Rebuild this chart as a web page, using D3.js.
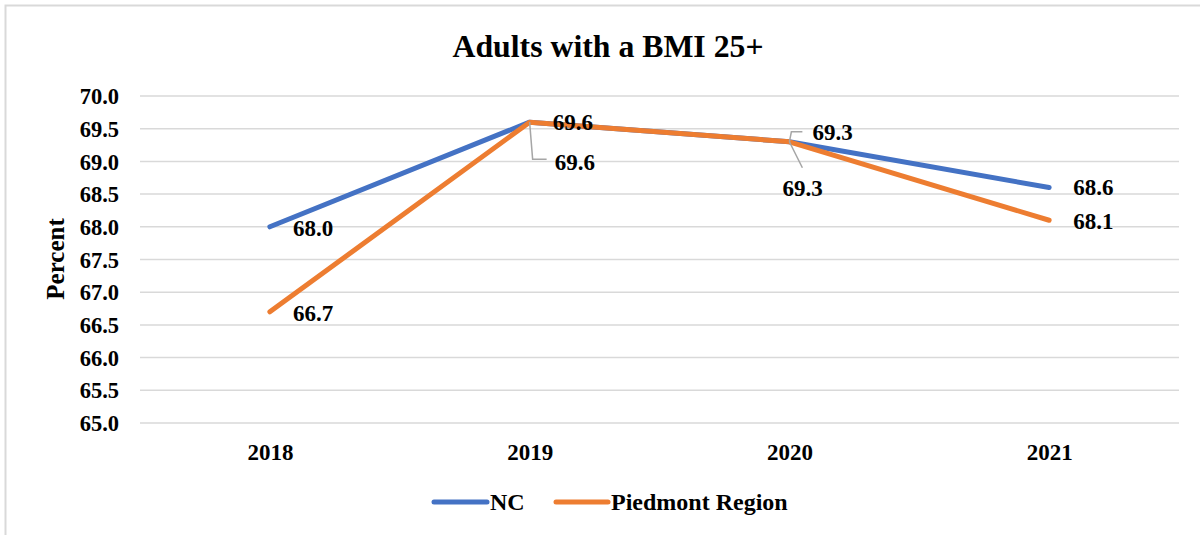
<!DOCTYPE html>
<html>
<head>
<meta charset="utf-8">
<script src="https://cdn.jsdelivr.net/npm/d3@7"></script>
<style>
  html, body { margin: 0; padding: 0; background: #ffffff; }
  svg { display: block; }
  text { font-family: "Liberation Serif", "Times New Roman", serif; font-weight: bold; fill: #000; }
</style>
</head>
<body>
<script>
// ---- data ----
const categories = ["2018", "2019", "2020", "2021"];
const ncValues = [68.0, 69.6, 69.3, 68.6];
const piedmontValues = [66.7, 69.6, 69.3, 68.1];
const seriesNames = ["NC", "Piedmont Region"];
const yTicks = [65.0, 65.5, 66.0, 66.5, 67.0, 67.5, 68.0, 68.5, 69.0, 69.5, 70.0];
const titleText = "Adults with a BMI 25+";
const yAxisTitle = "Percent";

// ---- layout ----
const W = 1200, H = 535;
const plot = { left: 140, right: 1179, top: 96, bottom: 423 };
const colors = ["#4472C4", "#ED7D31"];
const FONT = '"Liberation Serif", "Times New Roman", serif';

const svg = d3.select("body").append("svg").attr("width", W).attr("height", H);

// outer frame (top and left edges visible)
svg.append("path")
  .attr("d", `M5.5,${H} L5.5,5.5 L${W},5.5`)
  .attr("fill", "none").attr("stroke", "#d9d9d9").attr("stroke-width", 2);

const x = d3.scalePoint().domain(categories).range([plot.left, plot.right]).padding(0.5);
const y = d3.scaleLinear().domain([65, 70]).range([plot.bottom, plot.top]);

// gridlines
svg.append("g").selectAll("line").data(yTicks).join("line")
  .attr("x1", plot.left).attr("x2", plot.right)
  .attr("y1", d => y(d)).attr("y2", d => y(d))
  .attr("stroke", "#d9d9d9").attr("stroke-width", 1.5);

// y axis labels
const yAxis = d3.axisLeft(y).tickValues(yTicks).tickFormat(d3.format(".1f")).tickSize(0).tickPadding(21);
const gy = svg.append("g").attr("transform", `translate(${plot.left},0)`).call(yAxis);
gy.select(".domain").remove();
gy.selectAll("text").attr("font-size", 22.5).attr("font-family", null).attr("dy", "0.34em")
  .style("font-family", FONT).style("font-weight", "bold");

// x axis labels
const xAxis = d3.axisBottom(x).tickSize(0).tickPadding(0);
const gx = svg.append("g").attr("transform", `translate(0,${plot.bottom})`).call(xAxis);
gx.select(".domain").remove();
gx.selectAll("text").attr("font-size", 23).attr("font-family", null).attr("dy", null).attr("y", 37)
  .style("font-family", FONT).style("font-weight", "bold");

// title
svg.append("text").attr("x", 608).attr("y", 57).attr("text-anchor", "middle")
  .attr("font-size", 32).attr("textLength", 311).attr("lengthAdjust", "spacingAndGlyphs")
  .text(titleText);

// y axis title
svg.append("text").attr("transform", "translate(64,259) rotate(-90)")
  .attr("text-anchor", "middle").attr("font-size", 25).text(yAxisTitle);

// lines
const allSeries = [ncValues, piedmontValues];
const line = d3.line().x((d, i) => x(categories[i])).y(d => y(d));
allSeries.forEach((vals, s) => {
  svg.append("path").datum(vals).attr("d", line)
    .attr("fill", "none").attr("stroke", colors[s]).attr("stroke-width", 5)
    .attr("stroke-linecap", "round").attr("stroke-linejoin", "round");
});

// data labels: offsets (dx, dy of label left/center relative to point) and optional leader
const labelPlacement = [
  [ {dx: 23, dy: 1}, {dx: 25, dy: 40, leader: [[0,0],[3,37],[17,37]]}, {dx: 23, dy: -10, leader: [[0,0],[2,-10],[13,-10]]}, {dx: 24, dy: 0} ],
  [ {dx: 23, dy: 1}, {dx: 23, dy: 0}, {dx: -7, dy: 46, leader: [[0,0],[13,26]]}, {dx: 24, dy: 1} ]
];
allSeries.forEach((vals, s) => {
  vals.forEach((v, i) => {
    const px = x(categories[i]), py = y(v);
    const p = labelPlacement[s][i];
    if (p.leader) {
      svg.append("path")
        .attr("d", d3.line()(p.leader.map(q => [px + q[0], py + q[1]])))
        .attr("fill", "none").attr("stroke", "#a6a6a6").attr("stroke-width", 1.5);
    }
    svg.append("text").attr("x", px + p.dx).attr("y", py + p.dy).attr("dy", "0.34em")
      .attr("font-size", 23).text(d3.format(".1f")(v));
  });
});

// legend
const legendItems = [
  { name: seriesNames[0], color: colors[0], x1: 434, x2: 487, tx: 490 },
  { name: seriesNames[1], color: colors[1], x1: 556, x2: 608, tx: 611 }
];
const lg = svg.append("g");
legendItems.forEach(it => {
  lg.append("line").attr("x1", it.x1).attr("x2", it.x2).attr("y1", 502).attr("y2", 502)
    .attr("stroke", it.color).attr("stroke-width", 5).attr("stroke-linecap", "round");
  lg.append("text").attr("x", it.tx).attr("y", 502).attr("dy", "0.34em")
    .attr("font-size", 24).text(it.name);
});
</script>
</body>
</html>
